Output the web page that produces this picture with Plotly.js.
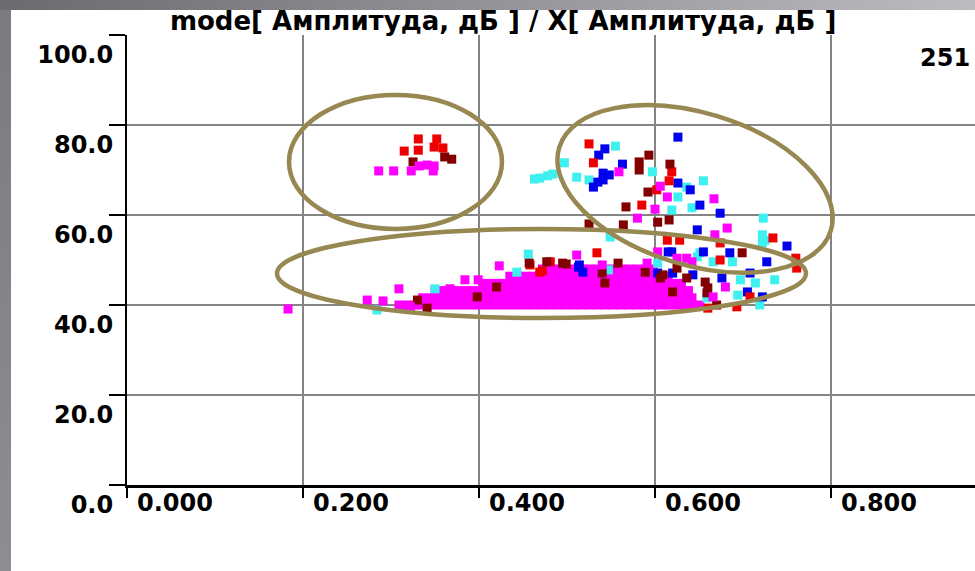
<!DOCTYPE html>
<html><head><meta charset="utf-8">
<script src="https://cdn.plot.ly/plotly-3.0.1.min.js"></script>
<style>html,body{margin:0;padding:0;background:#fff;overflow:hidden}#chart{width:975px;height:571px}</style>
</head><body><div id="chart"></div>
<script>
const titleText = "mode[ Амплитуда, дБ ] / X[ Амплитуда, дБ ]";
const countLabel = "251";
const xTickVals = [0, 0.2, 0.4, 0.6, 0.8];
const xTickText = ["0.000", "0.200", "0.400", "0.600", "0.800"];
const yTickVals = [0, 20, 40, 60, 80, 100];
const yTickText = ["0.0", "20.0", "40.0", "60.0", "80.0", "100.0"];

// red points
const redX = [0.315,0.331,0.352,0.331,0.349,0.359, 0.525,0.530,0.619,0.616,0.602,0.585,0.734, 0.534,0.481,0.674,0.760,0.614,0.628,0.674,0.693,0.660,0.708,0.458,0.472,0.469,0.761];
const redY = [74.2,76.9,76.9,74.4,75.1,74.9, 75.8,71.6,69.6,67.6,65.6,62.2,54.9, 51.6,49.6,53.8,50.4,54.4,54.4,50.0,39.6,39.3,41.8,48.9,47.6,47.3,48.2];
// dark red points
const darkRedX = [0.325,0.361,0.369, 0.593,0.582,0.617,0.592,0.567,0.525,0.564,0.616,0.603, 0.699,0.495,0.558,0.540,0.499,0.589,0.609,0.625,0.636,0.657,0.660,0.582,0.670,0.330,0.341,0.398,0.420,0.457,0.477,0.543,0.606,0.620,0.659];
const darkRedY = [71.8,72.9,72.4, 73.3,70.0,71.3,65.1,61.8,58.0,57.8,58.9,58.4, 51.6,49.3,49.3,47.1,49.1,47.3,46.7,48.2,46.0,45.1,43.8,71.8,40.0,41.1,39.3,41.8,44.0,49.3,49.6,44.9,46.0,42.9,42.7];
// blue points
const blueX = [0.626,0.543,0.536,0.563,0.541,0.535,0.530,0.626,0.640,0.651,0.674,0.648,0.750,0.727,0.685,0.615,0.514,0.708,0.513,0.518,0.603,0.619,0.620,0.643,0.655,0.676,0.705,0.722,0.548,0.541];
const blueY = [77.3,74.7,73.3,71.3,69.3,67.3,66.2,67.1,65.6,62.2,60.4,56.7,53.1,49.6,51.6,51.8,48.9,47.1,48.4,47.3,47.1,51.8,47.1,46.7,51.8,46.0,42.9,41.8,68.9,67.8];
// cyan points
const cyanX = [0.555,0.497,0.484,0.511,0.525,0.597,0.655,0.626,0.636,0.619,0.642,0.723,0.722,0.549,0.469,0.651,0.722,0.736,0.547,0.603,0.648,0.666,0.688,0.697,0.714,0.694,0.659,0.719,0.725,0.456,0.443,0.350,0.284,0.463,0.478];
const cyanY = [75.3,71.6,69.1,68.4,67.8,69.6,67.6,64.0,66.2,61.1,61.6,59.3,55.6,55.1,68.2,51.6,53.8,45.6,47.8,49.3,50.7,49.6,49.6,45.6,44.9,42.2,41.6,40.0,54.4,51.3,47.3,43.6,38.9,68.0,68.7];
// scattered magenta points
const magentaX = [0.286,0.303,0.323,0.332,0.341,0.348,0.349, 0.559,0.606,0.614,0.600,0.580,0.667,0.682,0.668,0.511,0.642,0.603,0.625,0.636,0.591,0.540,0.680,0.666, 0.183,0.273,0.291,0.309,0.314,0.322,0.367,0.384,0.399,0.423];
const magentaY = [69.8,69.8,69.8,70.9,71.1,69.8,70.9, 69.6,66.4,64.0,61.3,59.3,63.6,57.1,55.6,51.1,49.6,51.8,50.4,50.4,49.3,48.9,44.0,41.8, 39.1,41.1,40.9,43.6,39.6,39.6,43.6,45.6,45.6,48.7];
// dense magenta mass, read row by row
const blobRowY = [40.0, 41.6, 43.2, 44.8, 46.4, 48.0];
const blobRowX = [
 [0.309,0.318,0.327,0.336,0.345,0.354,0.363,0.372,0.381,0.390,0.399,0.408,0.417,0.426,0.435,0.444,0.453,0.462,0.471,0.480,0.489,0.498,0.507,0.516,0.525,0.534,0.543,0.552,0.561,0.570,0.579,0.588,0.597,0.606,0.615,0.624,0.633,0.642,0.651],
 [0.336,0.345,0.354,0.363,0.372,0.381,0.390,0.399,0.408,0.417,0.426,0.435,0.444,0.453,0.462,0.471,0.480,0.489,0.498,0.507,0.516,0.525,0.534,0.543,0.552,0.561,0.570,0.579,0.588,0.597,0.606,0.615,0.624,0.633,0.642],
 [0.350,0.359,0.368,0.377,0.386,0.395,0.404,0.413,0.422,0.431,0.440,0.449,0.458,0.467,0.476,0.485,0.494,0.503,0.512,0.521,0.530,0.539,0.548,0.557,0.566,0.575,0.584,0.593,0.602,0.611,0.620,0.629,0.638],
 [0.405,0.414,0.423,0.432,0.441,0.450,0.459,0.468,0.477,0.486,0.495,0.504,0.513,0.522,0.531,0.540,0.549,0.558,0.567,0.576,0.585,0.594,0.603,0.612,0.621,0.630],
 [0.435,0.444,0.453,0.462,0.471,0.480,0.489,0.498,0.507,0.516,0.525,0.534,0.543,0.552,0.561,0.570,0.579,0.588,0.597,0.606,0.615],
 [0.472,0.481,0.490,0.499,0.508,0.517,0.526,0.535,0.544,0.553,0.562,0.571,0.580,0.589,0.598]
];

const blobX = [], blobY = [];
blobRowX.forEach((row, i) => row.forEach(x => { blobX.push(x); blobY.push(blobRowY[i]); }));

function pts(x, y, color) {
  return {type:'scatter', mode:'markers', x:x, y:y, hoverinfo:'skip',
    marker:{symbol:'square', size:9, color:color, line:{width:0}}};
}
const traces = [
  pts(blobX, blobY, '#ff00ff'),
  pts(cyanX, cyanY, '#3ff0f0'),
  pts(blueX, blueY, '#0000ee'),
  pts(redX, redY, '#ee0000'),
  pts(darkRedX, darkRedY, '#820000'),
  pts(magentaX, magentaY, '#ff00ff')
];

function ellipsePath(a, b, deg) {
  const t = deg*Math.PI/180, c = Math.cos(t), s = Math.sin(t), k = 0.5523;
  const P = (u, v) => { const x = a*u, y = b*v; return (x*c - y*s).toFixed(2) + ',' + (x*s + y*c).toFixed(2); };
  return 'M' + P(1,0) + ' C' + P(1,k) + ' ' + P(k,1) + ' ' + P(0,1) +
         ' C' + P(-k,1) + ' ' + P(-1,k) + ' ' + P(-1,0) +
         ' C' + P(-1,-k) + ' ' + P(-k,-1) + ' ' + P(0,-1) +
         ' C' + P(k,-1) + ' ' + P(1,-k) + ' ' + P(1,0) + ' Z';
}
const olive = '#978750';
function ell(cx, cy, a, b, deg) {
  return {type:'path', xref:'x', yref:'y', xsizemode:'pixel', ysizemode:'pixel',
    xanchor:cx, yanchor:cy, path:ellipsePath(a, b, deg), layer:'above',
    line:{color:olive, width:4.5}, fillcolor:'rgba(0,0,0,0)'};
}

const bgSvg = "<svg xmlns='http://www.w3.org/2000/svg' width='975' height='571'>" +
  "<defs><linearGradient id='g' x1='0' y1='0' x2='1' y2='0'><stop offset='0' stop-color='#6c6970'/><stop offset='1' stop-color='#bdbbc1'/></linearGradient>" +
  "<linearGradient id='h' x1='0' y1='0' x2='0' y2='1'><stop offset='0' stop-color='#7c7981'/><stop offset='1' stop-color='#8f8c94'/></linearGradient></defs>" +
  "<rect width='975' height='571' fill='url(#g)'/><rect x='0' y='10' width='11' height='561' fill='url(#h)'/>" +
  "<rect x='11' y='10' width='964' height='561' fill='#ffffff'/></svg>";

const tickFont = {family:'DejaVu Sans, Liberation Sans, sans-serif', size:24, color:'#000', weight:'bold'};

const layout = {
  width:975, height:571,
  margin:{l:127, r:0, t:35, b:86, pad:0},
  paper_bgcolor:'#8a878f', plot_bgcolor:'#ffffff',
  showlegend:false,
  title:{text:titleText, xref:'container', x:0.516, xanchor:'center', yref:'container', y:0.963, yanchor:'middle',
    font:{family:'DejaVu Sans, sans-serif', size:26, color:'#000', weight:'bold'}},
  xaxis:{range:[0, 0.9636], tickmode:'array', tickvals:xTickVals, ticktext:xTickText,
    showgrid:true, gridcolor:'#848484', gridwidth:2, zeroline:false,
    showline:true, linecolor:'#000', linewidth:3, ticks:'outside', ticklen:10, tickwidth:1.5, tickcolor:'#000',
    ticklabelshift:48, ticklabelstandoff:-16, tickfont:tickFont, fixedrange:true},
  yaxis:{range:[0, 100], tickmode:'array', tickvals:yTickVals, ticktext:yTickText,
    showgrid:true, gridcolor:'#848484', gridwidth:2, zeroline:false,
    showline:true, linecolor:'#000', linewidth:2, ticks:'outside', ticklen:16, tickwidth:1.5, tickcolor:'#000',
    ticklabelshift:20, ticklabelstandoff:-9, tickfont:tickFont, fixedrange:true},
  images:[{source:'data:image/svg+xml;charset=utf-8,' + encodeURIComponent(bgSvg), xref:'paper', yref:'paper',
    x:-127/848, y:1+35/450, sizex:975/848, sizey:571/450, xanchor:'left', yanchor:'top', sizing:'stretch', layer:'below'}],
  shapes:[
    ell(0.3051, 71.8, 106.5, 67, 0),
    ell(0.6455, 65.8, 142, 76, -17),
    ell(0.4710, 47.0, 264.5, 44.5, 0)
  ],
  annotations:[{text:countLabel, xref:'paper', yref:'paper', x:(972-127)/848, y:(485-58)/450,
    xanchor:'right', yanchor:'middle', showarrow:false, font:tickFont}]
};

Plotly.newPlot('chart', traces, layout, {displayModeBar:false, staticPlot:true});
</script></body></html>
